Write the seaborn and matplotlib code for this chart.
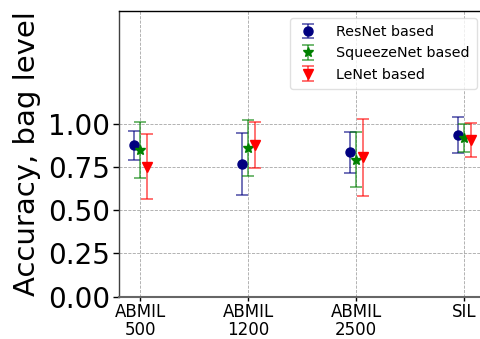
import numpy as np
import matplotlib
matplotlib.use("Agg")
import matplotlib.pyplot as plt
import seaborn as sns

categories = ["ABMIL\n500", "ABMIL\n1200", "ABMIL\n2500", "SIL"]
series = ["ResNet based", "SqueezeNet based", "LeNet based"]
resnet_mean = [0.876, 0.765, 0.834, 0.932]
resnet_err = [0.084, 0.180, 0.118, 0.104]
squeeze_mean = [0.848, 0.861, 0.792, 0.917]
squeeze_err = [0.164, 0.162, 0.157, 0.083]
lenet_mean = [0.752, 0.876, 0.806, 0.903]
lenet_err = [0.188, 0.132, 0.223, 0.098]

sns.set_theme(style="ticks")
plt.rcParams['font.family'] = ['DejaVu Sans']
plt.rcParams['text.color'] = 'black'
plt.rcParams['axes.labelcolor'] = 'black'
plt.rcParams['xtick.color'] = 'black'
plt.rcParams['ytick.color'] = 'black'

fig = plt.figure(figsize=(4.81, 3.39), dpi=100)
ax = fig.add_axes([0.2468, 0.1245, 0.763, 0.843])

x = np.arange(len(categories))
specs = [
    (resnet_mean, resnet_err, "navy", "o", 6.5, -0.06),
    (squeeze_mean, squeeze_err, "green", "*", 7.5, 0.0),
    (lenet_mean, lenet_err, "red", "v", 7, 0.06),
]
for name, (m, e, c, mk, ms, off) in zip(series, specs):
    eb = ax.errorbar(x + off, m, yerr=e, fmt=mk, color=c, ms=ms, ecolor=c,
                     elinewidth=1.1, capsize=4.5, capthick=1.1, label=name)
    for cap in eb[1]:
        cap.set_alpha(0.7)
    for bar in eb[2]:
        bar.set_alpha(0.7)

ax.set_xlim(-0.2, 3.2)
ax.set_ylim(0, 1.65)
ax.set_yticks([0, 0.25, 0.5, 0.75, 1.0])
ax.set_yticklabels(["0.00", "0.25", "0.50", "0.75", "1.00"])
ax.set_xticks(x)
ax.set_xticklabels(categories, fontsize=12, linespacing=1.0)
ax.tick_params(axis='y', labelsize=20, length=4, width=1, pad=2)
ax.tick_params(axis='x', length=3, width=1, pad=1.5)
ax.set_ylabel("Accuracy, bag level", fontsize=21, labelpad=5)
ax.grid(True, linestyle='--', color='0.65', linewidth=0.6)
ax.set_axisbelow(True)
for s in ax.spines.values():
    s.set_color('black')
    s.set_linewidth(1)
ax.spines['left'].set_color('0.25')
ax.spines['bottom'].set_color('0.4')
ax.spines['bottom'].set_linewidth(1.5)

leg = ax.legend(loc='upper right', bbox_to_anchor=(0.976, 0.975), fontsize=10.3,
                frameon=True, borderpad=0.5, handletextpad=1.3, labelspacing=0.5,
                handlelength=1.4, borderaxespad=0)
leg.get_frame().set_edgecolor('0.85')

fig.savefig("out.png", dpi=100)
